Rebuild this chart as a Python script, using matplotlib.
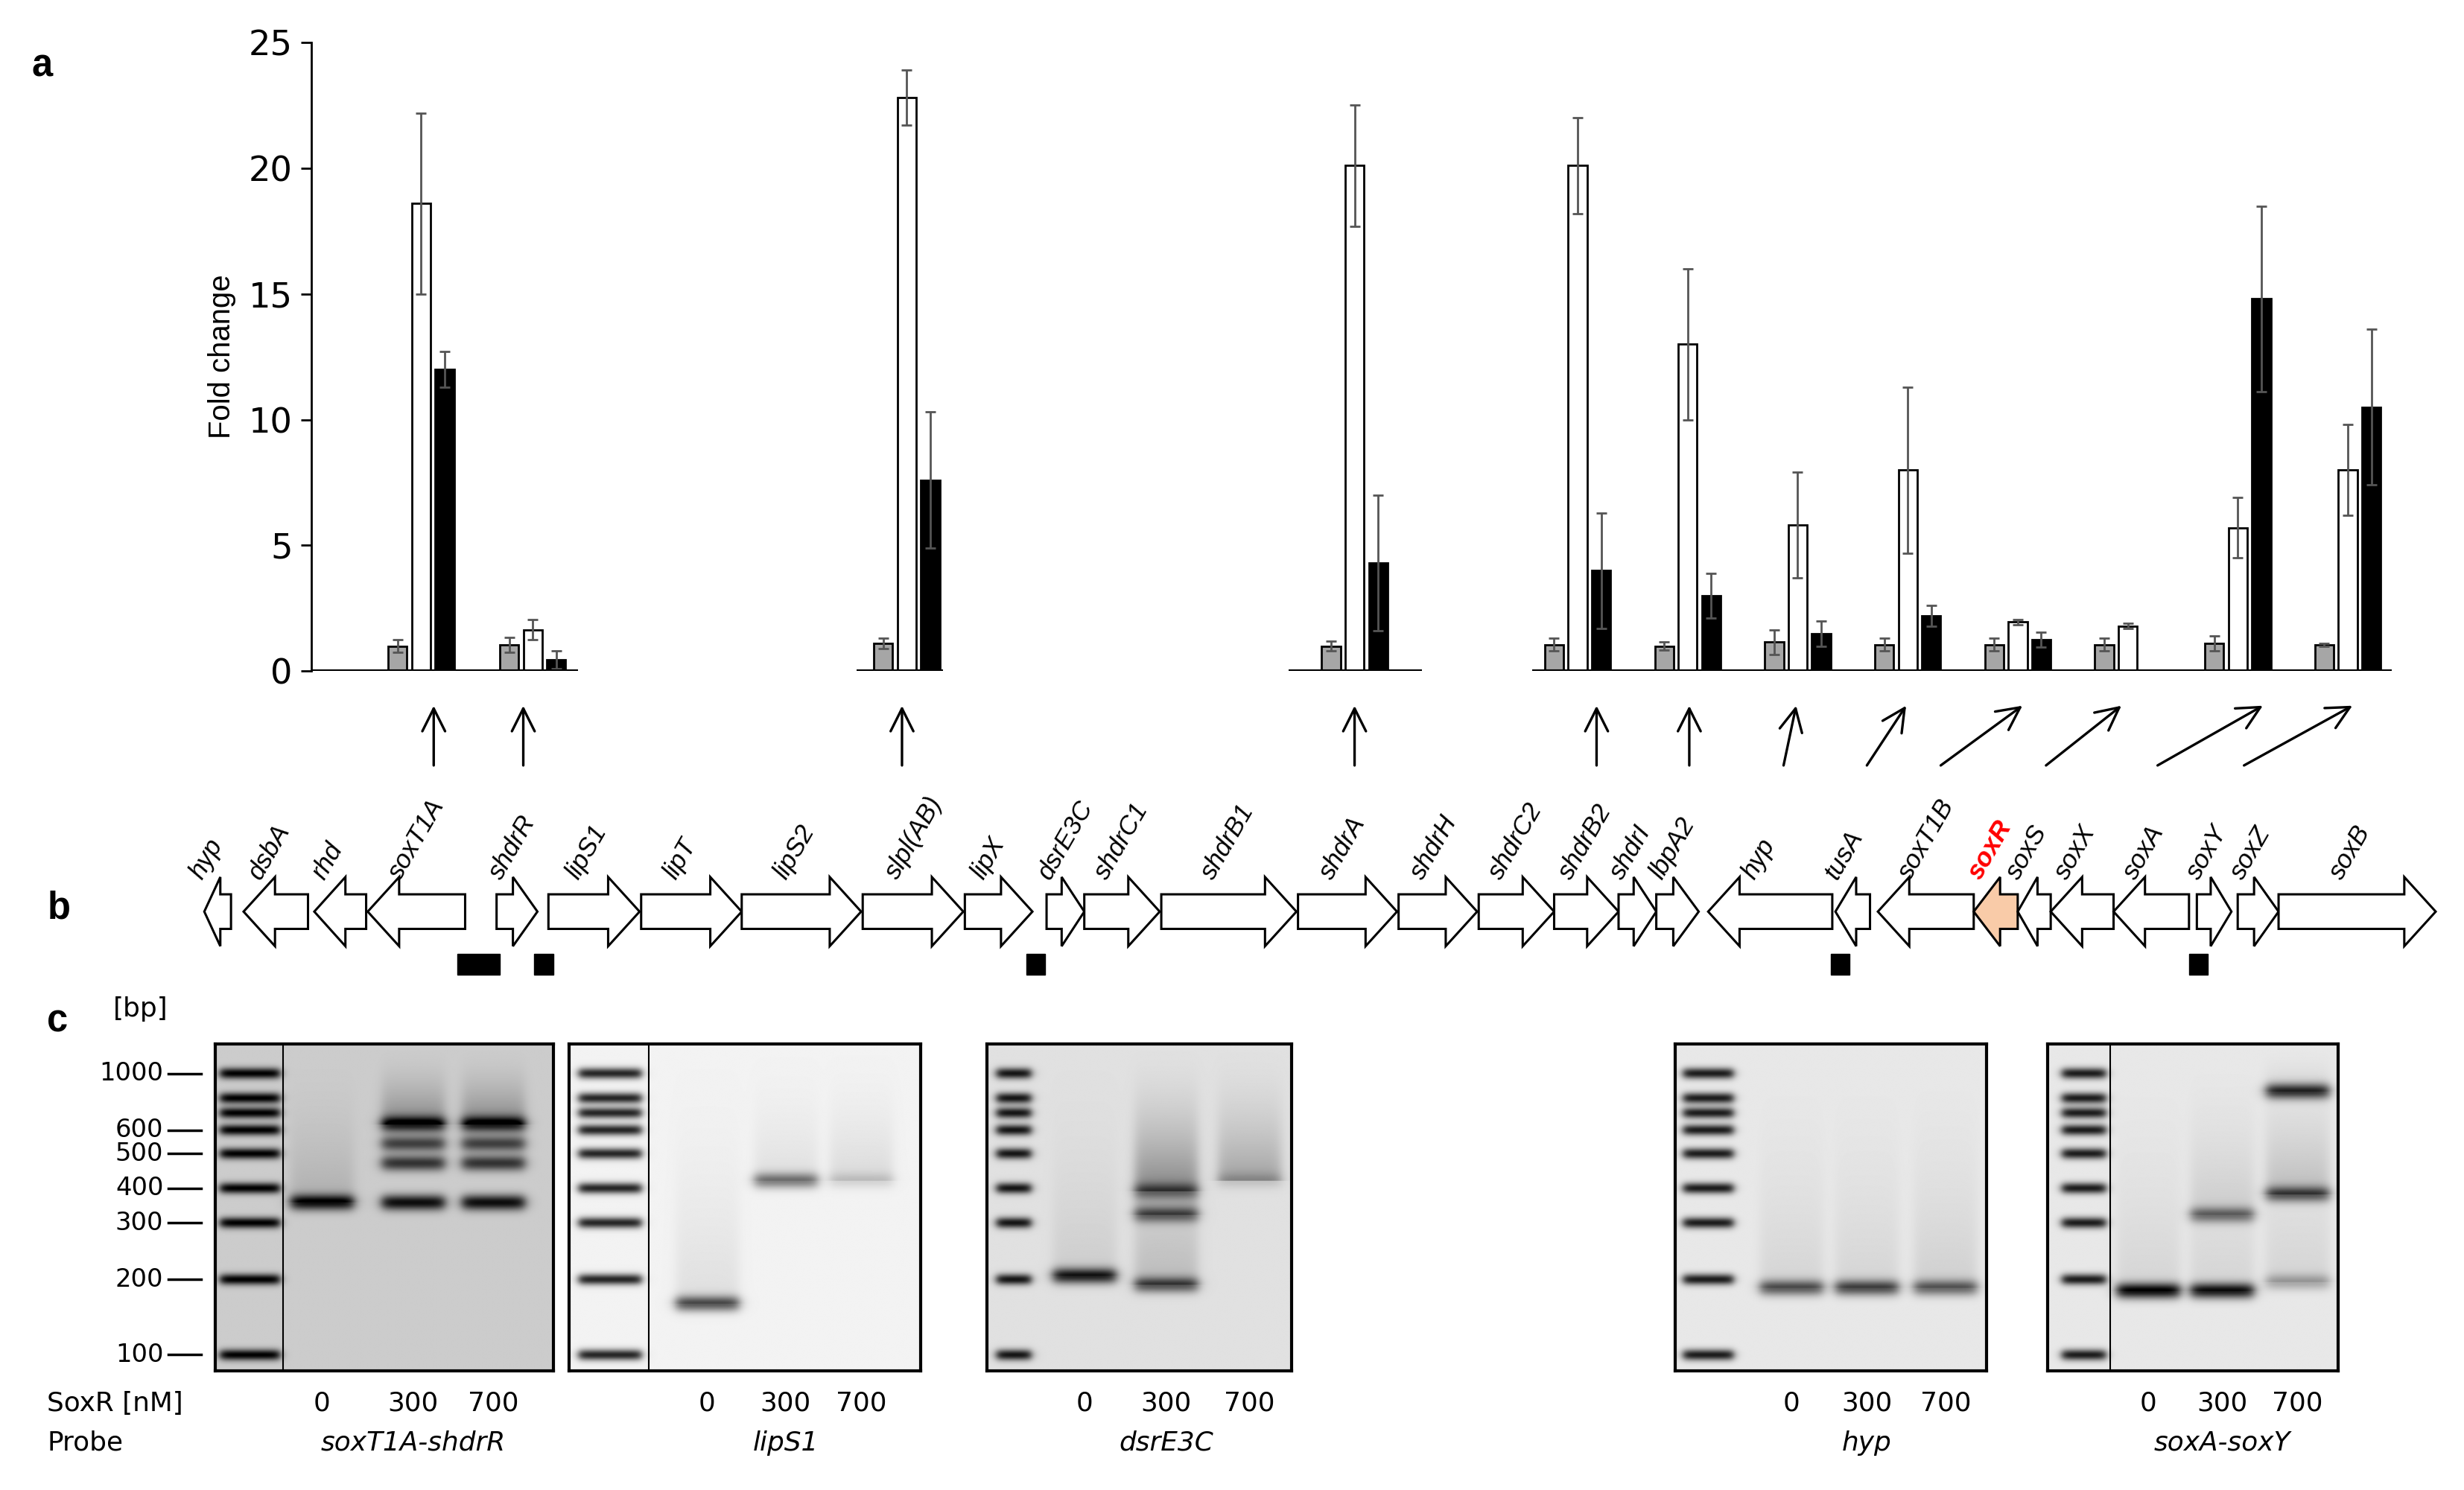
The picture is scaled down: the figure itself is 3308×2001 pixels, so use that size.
import numpy as np
import matplotlib
matplotlib.use("Agg")
import matplotlib.pyplot as plt
from matplotlib.patches import Polygon, Rectangle

W, H = 1568.0, 948.0          # layout units (reference pixels / 2.11)
PT = 2.11 * 72 / 100          # points per layout unit
NARROW = ["Liberation Sans Narrow", "DejaVu Sans"]
ARIAL = ["Liberation Sans", "DejaVu Sans"]

# ---------------- panel a: qRT-PCR fold change ----------------
genes_a = ["soxT1A", "shdrR", "slpl(AB)", "shdrA", "shdrB2", "lbpA2",
           "hyp", "tusA", "soxR", "soxS", "soxY", "soxB"]
gray_val = [1.0, 1.05, 1.1, 1.0, 1.05, 1.0, 1.15, 1.05, 1.05, 1.05, 1.1, 1.05]
gray_err = [0.25, 0.3, 0.2, 0.2, 0.25, 0.15, 0.5, 0.25, 0.25, 0.25, 0.3, 0.05]
white_val = [18.6, 1.65, 22.8, 20.1, 20.1, 13.0, 5.8, 8.0, 1.95, 1.8, 5.7, 8.0]
white_err = [3.6, 0.4, 1.1, 2.4, 1.9, 3.0, 2.1, 3.3, 0.1, 0.1, 1.2, 1.8]
black_val = [12.0, 0.45, 7.6, 4.3, 4.0, 3.0, 1.5, 2.2, 1.25, np.nan, 14.8, 10.5]
black_err = [0.7, 0.35, 2.7, 2.7, 2.3, 0.9, 0.5, 0.4, 0.3, np.nan, 3.7, 3.1]
group_x = [268, 339, 577, 862, 1004, 1074, 1144, 1214, 1284, 1354, 1424, 1494]
baselines = [(198, 368), (545, 600), (820, 905), (975, 1522)]
# arrow (tail x, head x) under each gene group
arrow_tail = [276, 333, 574, 862, 1016, 1075, 1135, 1188, 1235, 1302, 1373, 1428]
arrow_head = [276, 333, 574, 862, 1016, 1075, 1143, 1213, 1287, 1350, 1440, 1497]

# ---------------- panel b: gene map ----------------
gene_names = ["hyp", "dsbA", "rhd", "soxT1A", "shdrR", "lipS1", "lipT", "lipS2",
              "slpl(AB)", "lipX", "dsrE3C", "shdrC1", "shdrB1", "shdrA", "shdrH",
              "shdrC2", "shdrB2", "shdrI", "lbpA2", "hyp", "tusA", "soxT1B", "soxR",
              "soxS", "soxX", "soxA", "soxY", "soxZ", "soxB"]
gene_start = [130, 155, 200, 234, 316, 349, 408, 472, 549, 614, 666, 690, 739, 826,
              890, 941, 989, 1030, 1054, 1087, 1168, 1195, 1256, 1284, 1305, 1345,
              1398, 1424, 1450]
gene_end = [147, 196, 233, 296, 342, 407, 472, 548, 613, 657, 690, 738, 825, 889,
            940, 989, 1030, 1054, 1081, 1166, 1190, 1256, 1284, 1305, 1345, 1393,
            1420, 1450, 1550]
gene_dir = [-1, -1, -1, -1, 1, 1, 1, 1, 1, 1, 1, 1, 1, 1, 1, 1, 1, 1, 1,
            -1, -1, -1, -1, -1, -1, -1, 1, 1, 1]
probe_start = [291, 340, 653, 1165, 1393]
probe_end = [318, 352, 665, 1177, 1405]

# ---------------- panel c: EMSA gels ----------------
ladder_bp = [1000, 600, 500, 400, 300, 200, 100]
ladder_y = [683, 719, 734, 756, 778, 814, 862]
ladder_bands = [1000, 800, 700, 600, 500, 400, 300, 200, 100]
conc_labels = ["0", "300", "700"]
probes = ["soxT1A-shdrR", "lipS1", "dsrE3C", "hyp", "soxA-soxY"]
gel_box = [(137, 352), (362, 586), (628, 822), (1066, 1264), (1303, 1488)]
gel_div = [180, 413, None, None, 1343]
gel_ladder = [(140, 178), (368, 408), (634, 656), (1071, 1103), (1312, 1340)]
gel_lanes = [(205, 263, 314), (450, 500, 548), (690, 742, 795),
             (1140, 1188, 1238), (1367, 1414, 1462)]
gel_bg = [0.80, 0.95, 0.88, 0.91, 0.91]
# bands: (gel, lane, bp, darkness, smear above)
bands = [
    (0, 0, 355, 0.75, 0.12), (0, 1, 355, 0.75, 0.0), (0, 1, 470, 0.6, 0.0),
    (0, 1, 540, 0.55, 0.0), (0, 1, 630, 0.7, 0.3), (0, 2, 355, 0.75, 0.0),
    (0, 2, 470, 0.6, 0.0), (0, 2, 540, 0.55, 0.0), (0, 2, 630, 0.7, 0.3),
    (1, 0, 160, 0.6, 0.08), (1, 1, 420, 0.45, 0.08), (1, 2, 420, 0.12, 0.1),
    (2, 0, 205, 0.75, 0.08), (2, 1, 190, 0.55, 0.15), (2, 1, 320, 0.45, 0.15),
    (2, 1, 390, 0.35, 0.2), (2, 2, 420, 0.12, 0.25),
    (3, 0, 185, 0.55, 0.08), (3, 1, 185, 0.6, 0.08), (3, 2, 185, 0.5, 0.1),
    (4, 0, 180, 0.85, 0.08), (4, 1, 180, 0.8, 0.08), (4, 1, 320, 0.45, 0.08),
    (4, 2, 850, 0.7, 0.08), (4, 2, 380, 0.55, 0.15), (4, 2, 195, 0.25, 0.08),
]


def bp_to_y(bp):
    return np.interp(-np.log(bp), -np.log(ladder_bp), ladder_y)


fig = plt.figure(figsize=(33.08, 20.01), dpi=100)


def add_ax(x0, x1, y0, y1, **kw):
    return fig.add_axes([x0 / W, 1 - y1 / H, (x1 - x0) / W, (y1 - y0) / H], **kw)


# ---- bar chart ----
ax = add_ax(198, 1530, 27, 427)
ax.set_xlim(198, 1530)
ax.set_ylim(0, 25)
bw = 12
xs = np.array(group_x, dtype=float)
ekw = dict(ecolor="#555555", elinewidth=2, capsize=5, capthick=2)
ax.bar(xs - 15, gray_val, bw, yerr=gray_err, color="#a6a6a6", edgecolor="black",
       linewidth=2, error_kw=ekw, zorder=3)
ax.bar(xs, white_val, bw, yerr=white_err, color="white", edgecolor="black",
       linewidth=2, error_kw=ekw, zorder=3)
ax.bar(xs + 15, black_val, bw, yerr=black_err, color="black", edgecolor="black",
       linewidth=2, error_kw=ekw, zorder=3)
for x0, x1 in baselines:
    ax.hlines(0, x0, x1, color="black", lw=3, zorder=4)
for s in ["top", "right", "bottom"]:
    ax.spines[s].set_visible(False)
ax.spines["left"].set_linewidth(2)
ax.set_xticks([])
ax.set_yticks([0, 5, 10, 15, 20, 25])
ax.tick_params(axis="y", length=10, width=2, labelsize=22 * PT, pad=8)
for t in ax.get_yticklabels():
    t.set_fontfamily(NARROW)
ax.set_ylabel("Fold change", fontsize=19 * PT, family=ARIAL, labelpad=12)

# ---- overlay for annotations, genes, labels ----
ov = add_ax(0, W, 0, H, zorder=5)
ov.set_xlim(0, W)
ov.set_ylim(H, 0)
ov.axis("off")
ov.patch.set_alpha(0)

for t0, h0 in zip(arrow_tail, arrow_head):
    ov.annotate("", xy=(h0, 449), xytext=(t0, 487),
                arrowprops=dict(arrowstyle="->", lw=2.4, color="black",
                                mutation_scale=55, shrinkA=0, shrinkB=0))

cy, bh, hh = 580, 11, 22
for name, s, e, d in zip(gene_names, gene_start, gene_end, gene_dir):
    L = e - s
    hl = min(20, 0.6 * L)
    if d > 0:
        pts = [(s, cy - bh), (e - hl, cy - bh), (e - hl, cy - hh), (e, cy),
               (e - hl, cy + hh), (e - hl, cy + bh), (s, cy + bh)]
    else:
        pts = [(e, cy - bh), (s + hl, cy - bh), (s + hl, cy - hh), (s, cy),
               (s + hl, cy + hh), (s + hl, cy + bh), (e, cy + bh)]
    red = name == "soxR"
    ov.add_patch(Polygon(pts, closed=True, facecolor="#f9cba8" if red else "white",
                         edgecolor="black", lw=2.2, zorder=3))
    ov.text((s + e) / 2 - 7, 562, name, rotation=60, rotation_mode="anchor",
            ha="left", va="bottom", fontsize=16.5 * PT, style="italic",
            family=ARIAL, color="red" if red else "black",
            weight="bold" if red else "normal")
for s, e in zip(probe_start, probe_end):
    ov.add_patch(Rectangle((s, 607), e - s, 13, color="black", zorder=3))

for lab, x, y in [("a", 20, 42), ("b", 30, 578), ("c", 30, 650)]:
    ov.text(x, y, lab, fontsize=24 * PT, weight="bold", family=ARIAL,
            ha="left", va="center")
ov.text(72, 642, "[bp]", fontsize=17 * PT, family=NARROW, ha="left", va="center")
for bp, y in zip(ladder_bp, ladder_y):
    ov.text(104, y, str(bp), fontsize=16 * PT, family=NARROW, ha="right", va="center")
    ov.plot([107, 128], [y, y], color="black", lw=2.5)
ov.text(30, 893, "SoxR [nM]", fontsize=17 * PT, family=NARROW, ha="left", va="center")
ov.text(30, 918, "Probe", fontsize=17 * PT, family=NARROW, ha="left", va="center")

# ---- gels ----
gy0, gy1 = 664, 872
for g, ((x0, x1), lanes, bg) in enumerate(zip(gel_box, gel_lanes, gel_bg)):
    gx = np.linspace(x0, x1, int((x1 - x0) * 3))
    gy = np.linspace(gy0, gy1, int((gy1 - gy0) * 3))
    X, Y = np.meshgrid(gx, gy)
    img = np.full(X.shape, bg)
    lx0, lx1 = gel_ladder[g]
    lmask = 1 / (1 + np.exp(-(X - lx0) / 1.5)) / (1 + np.exp((X - lx1) / 1.5))
    for bp in ladder_bands:
        img -= 0.8 * lmask * np.exp(-((Y - bp_to_y(bp)) / 3.5) ** 2)
    for gi, lane, bp, dark, smear in bands:
        if gi != g:
            continue
        cx = lanes[lane]
        m = 1 / (1 + np.exp(-(X - cx + 20) / 2)) / (1 + np.exp((X - cx - 20) / 2))
        yb = bp_to_y(bp)
        img -= dark * m * np.exp(-((Y - yb) / 5.0) ** 2)
        img -= smear * m * np.clip((Y - gy0) / (yb - gy0 + 1e-9), 0, 1) ** 2 * (Y < yb)
    img = np.clip(img, 0, 1)
    gax = add_ax(x0, x1, gy0, gy1)
    gax.imshow(img, cmap="gray", vmin=0, vmax=1, aspect="auto",
               extent=(x0, x1, gy1, gy0), interpolation="bilinear")
    gax.set_xticks([])
    gax.set_yticks([])
    for sp in gax.spines.values():
        sp.set_linewidth(3)
    if gel_div[g] is not None:
        gax.axvline(gel_div[g], color="black", lw=1.5)
    for cx, lab in zip(lanes, conc_labels):
        ov.text(cx, 893, lab, fontsize=17 * PT, family=NARROW, ha="center", va="center")
    ov.text(lanes[1], 918, probes[g], fontsize=17 * PT, family=NARROW,
            style="italic", ha="center", va="center")

fig.savefig("out.png", dpi=100)
